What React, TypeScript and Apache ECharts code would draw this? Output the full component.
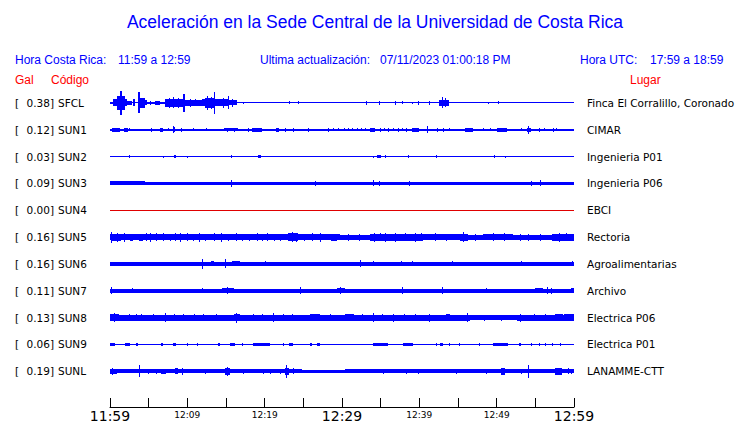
import React, { useEffect, useRef } from "react";
import * as echarts from "echarts";

// ---------- data ----------
const STATIONS = ["SFCL", "SUN1", "SUN2", "SUN3", "SUN4", "SUN5", "SUN6", "SUN7", "SUN8", "SUN9", "SUNL"];
const PEAK_GAL = [0.38, 0.12, 0.03, 0.09, 0.0, 0.16, 0.16, 0.11, 0.13, 0.06, 0.19];
const PLACES = [
  "Finca El Corralillo, Coronado", "CIMAR", "Ingenieria P01", "Ingenieria P06", "EBCI",
  "Rectoria", "Agroalimentarias", "Archivo", "Electrica P06", "Electrica P01", "LANAMME-CTT",
];
// continuous noise band half-amplitude (Gal)
const BAND_GAL = [0, 0.02, 0, 0.038, 0, 0.065, 0.048, 0.048, 0.06, 0, 0.035];
const TICK_LABELS = ["11:59", "", "12:09", "", "12:19", "", "12:29", "", "12:39", "", "12:49", "", "12:59"];

// envelope segments: [start minute, end minute, half-amplitude Gal]
const SFCL_ENV = [
  [0.0, 0.4, 0.02], [0.4, 0.86, 0.1], [0.86, 1.29, 0.21], [1.29, 1.59, 0.36], [1.59, 1.94, 0.21],
  [1.94, 2.16, 0.1], [2.16, 2.8, 0.04], [3.02, 3.23, 0.1], [3.58, 3.84, 0.31], [3.84, 4.53, 0.15],
  [4.53, 4.74, 0.06], [4.74, 7.1, 0.02], [5.2, 5.3, 0.04], [5.8, 6.5, 0.04], [7.1, 9.4, 0.11],
  [7.6, 7.7, 0.14], [8.2, 8.3, 0.16], [8.8, 8.9, 0.15], [9.4, 9.7, 0.27], [9.7, 11.85, 0.08],
  [10.3, 10.4, 0.11], [11.0, 11.1, 0.1], [11.85, 12.28, 0.1], [12.28, 13.4, 0.14], [12.6, 12.7, 0.2],
  [13.0, 13.1, 0.18], [13.4, 13.6, 0.34], [13.6, 14.2, 0.1], [14.2, 15.2, 0.09], [14.6, 14.7, 0.14],
  [15.2, 15.4, 0.19], [15.4, 16.4, 0.07], [15.8, 15.9, 0.11], [17.2, 17.3, 0.02], [23.2, 23.3, 0.03],
  [24.3, 24.4, 0.03], [33.1, 33.2, 0.04], [34.8, 34.9, 0.04], [36.8, 37.0, 0.05], [37.8, 37.9, 0.03],
  [39.1, 39.2, 0.02], [39.8, 40.0, 0.05], [41.2, 41.3, 0.04], [42.5, 43.8, 0.08], [42.9, 43.1, 0.16],
  [43.3, 43.5, 0.12], [48.9, 49.0, 0.02], [50.2, 50.3, 0.03],
];
const SUN1_ENV = [
  [0.3, 1.3, 0.04], [1.8, 2.3, 0.04], [2.4, 2.5, 0.03], [5.3, 5.4, 0.04], [6.5, 6.8, 0.04],
  [7.5, 7.6, 0.03], [8.1, 8.4, 0.06], [8.2, 8.3, 0.09], [9.2, 9.3, 0.04], [10.7, 10.8, 0.03],
  [12.4, 12.5, 0.03], [14.7, 16.5, 0.035], [15.1, 15.2, 0.05], [16.0, 16.1, 0.05], [17.8, 17.9, 0.04],
  [18.3, 19.6, 0.04], [21.5, 21.8, 0.05], [22.6, 22.7, 0.04], [23.7, 23.8, 0.04], [25.6, 25.7, 0.05],
  [28.2, 28.3, 0.04], [28.9, 29.0, 0.03], [29.5, 29.6, 0.03], [30.2, 30.3, 0.03], [30.8, 30.9, 0.03],
  [31.3, 31.4, 0.03], [31.9, 32.0, 0.03], [32.4, 32.5, 0.03], [33.0, 33.1, 0.03], [33.6, 34.3, 0.04],
  [34.9, 35.0, 0.04], [35.4, 35.5, 0.03], [36.0, 36.1, 0.04], [36.6, 36.7, 0.03], [37.2, 37.3, 0.04],
  [37.7, 37.8, 0.03], [38.3, 38.4, 0.04], [39.0, 39.9, 0.04], [41.0, 41.1, 0.09], [42.3, 42.4, 0.04],
  [43.1, 43.2, 0.04], [43.8, 43.9, 0.03], [45.9, 46.9, 0.04], [48.2, 48.3, 0.03], [49.2, 49.3, 0.03],
  [50.0, 51.3, 0.04], [53.2, 53.3, 0.03], [53.9, 54.5, 0.045], [54.0, 54.1, 0.11], [55.5, 55.6, 0.04],
  [56.1, 56.2, 0.03], [57.3, 57.4, 0.04], [57.7, 57.8, 0.03],
];
const SUN2_ENV = [
  [2.4, 2.5, 0.03], [6.8, 6.9, 0.02], [8.3, 8.5, 0.03], [10.0, 10.1, 0.02], [15.7, 15.8, 0.03],
  [19.1, 19.5, 0.03], [34.0, 34.1, 0.02], [34.5, 35.0, 0.03], [35.5, 35.6, 0.03], [38.5, 38.7, 0.03],
  [42.1, 42.2, 0.03], [49.7, 49.8, 0.03], [51.1, 51.2, 0.02],
];
const SUN3_ENV = [
  [0, 4.5, 0.05], [15.7, 15.8, 0.09], [26.5, 26.6, 0.06], [34.0, 34.1, 0.08], [34.8, 34.9, 0.07],
  [38.6, 38.7, 0.07], [54.5, 54.6, 0.06], [55.6, 55.7, 0.08],
];
const SUN4_ENV: number[][] = [];
const SUN5_ENV = [
  [0, 29.7, 0.085], [33.6, 40.5, 0.09], [40.5, 45.2, 0.08], [48.2, 52.1, 0.08], [57.2, 60, 0.09],
  [0.1, 0.2, 0.16], [0.3, 1.4, 0.1], [0.9, 1.0, 0.12], [1.8, 1.9, 0.12], [2.6, 3.0, 0.1],
  [3.8, 4.3, 0.1], [4.6, 4.7, 0.11], [5.2, 5.3, 0.12], [5.9, 6.0, 0.11], [6.9, 7.0, 0.11],
  [7.7, 7.8, 0.1], [8.4, 8.5, 0.11], [9.1, 9.2, 0.12], [10.0, 10.1, 0.11], [10.7, 10.8, 0.1],
  [11.5, 11.6, 0.12], [12.3, 12.4, 0.1], [13.4, 13.5, 0.11], [14.3, 14.4, 0.12], [15.2, 15.3, 0.1],
  [16.3, 16.4, 0.11], [17.1, 17.2, 0.1], [18.0, 18.1, 0.1], [19.0, 19.1, 0.11], [19.6, 19.7, 0.1],
  [20.3, 20.4, 0.11], [21.2, 21.3, 0.1], [22.0, 22.1, 0.1], [23.0, 24.3, 0.11], [23.5, 23.6, 0.15],
  [24.0, 24.1, 0.13], [25.1, 25.2, 0.1], [26.1, 26.2, 0.11], [27.2, 27.3, 0.12], [28.6, 29.4, 0.1],
  [30.8, 30.9, 0.09], [32.2, 32.3, 0.09], [34.2, 34.3, 0.12], [34.9, 35.0, 0.11], [35.5, 35.6, 0.12],
  [36.3, 36.4, 0.1], [36.9, 37.0, 0.12], [38.1, 38.2, 0.11], [39.4, 39.5, 0.13], [40.2, 40.3, 0.11],
  [42.0, 42.1, 0.11], [43.5, 43.6, 0.1], [45.2, 46.3, 0.1], [45.7, 45.8, 0.15], [47.2, 47.3, 0.09],
  [49.5, 49.6, 0.11], [51.0, 51.1, 0.11], [53.0, 53.1, 0.09], [54.0, 54.1, 0.1], [55.6, 55.7, 0.09],
  [58.0, 58.1, 0.12], [59.0, 59.1, 0.11],
];
const SUN6_ENV = [
  [11.9, 12.0, 0.15], [13.1, 13.5, 0.07], [14.9, 15.0, 0.12], [15.8, 16.8, 0.06], [20.1, 20.2, 0.06],
  [32.3, 32.4, 0.1], [34.0, 34.1, 0.07], [37.6, 37.7, 0.06], [39.1, 39.2, 0.06], [44.2, 44.3, 0.06],
  [53.1, 53.2, 0.07], [59.8, 59.9, 0.06],
];
const SUN7_ENV = [
  [0.1, 0.3, 0.09], [2.8, 2.9, 0.07], [11.9, 12.0, 0.07], [14.5, 16.0, 0.058], [15.1, 15.2, 0.1],
  [24.6, 24.7, 0.09], [29.3, 30.4, 0.07], [29.8, 29.9, 0.1], [37.7, 37.8, 0.09], [42.9, 43.0, 0.09],
  [48.6, 48.7, 0.06], [55.0, 56.0, 0.058], [56.5, 56.6, 0.09], [57.0, 57.1, 0.08], [59.6, 60, 0.06],
];
const SUN8_ENV = [
  [0, 46.5, 0.08], [52.6, 60, 0.08], [0, 1.2, 0.1], [0.5, 0.6, 0.12], [2.5, 2.6, 0.1],
  [3.3, 3.4, 0.09], [4.0, 4.1, 0.1], [5.5, 5.6, 0.09], [7.1, 7.2, 0.12], [8.3, 8.4, 0.09],
  [9.5, 9.6, 0.1], [10.8, 10.9, 0.09], [12.0, 12.1, 0.1], [13.7, 13.8, 0.09], [16.0, 16.8, 0.1],
  [16.3, 16.4, 0.14], [18.5, 18.6, 0.1], [19.6, 19.7, 0.09], [21.1, 21.2, 0.12], [22.4, 22.5, 0.09],
  [23.5, 23.6, 0.1], [25.9, 27.2, 0.095], [28.5, 28.6, 0.1], [30.4, 31.5, 0.1], [32.6, 32.7, 0.09],
  [34.0, 34.1, 0.12], [35.2, 35.3, 0.09], [36.6, 36.7, 0.11], [38.0, 38.1, 0.09], [39.5, 39.6, 0.1],
  [41.2, 41.3, 0.11], [43.5, 44.0, 0.1], [46.1, 46.2, 0.12], [48.3, 48.4, 0.08], [50.5, 50.6, 0.08],
  [53.0, 53.1, 0.11], [54.8, 54.9, 0.1], [56.2, 56.3, 0.1], [57.5, 58.6, 0.1], [58.7, 60, 0.09],
];
const SUN9_ENV = [
  [0, 0.6, 0.03], [1.9, 2.6, 0.035], [3.4, 3.6, 0.03], [6.6, 6.8, 0.03], [8.2, 8.5, 0.03],
  [10.0, 10.1, 0.025], [11.3, 11.4, 0.025], [14.0, 14.2, 0.03], [15.5, 16.2, 0.03], [17.1, 17.2, 0.025],
  [18.5, 20.7, 0.03], [22.4, 22.5, 0.025], [23.2, 23.6, 0.03], [25.9, 26.1, 0.03], [26.8, 27.2, 0.03],
  [34.0, 36.0, 0.03], [37.9, 39.2, 0.03], [42.1, 42.2, 0.025], [42.7, 43.0, 0.03], [43.8, 43.9, 0.025],
  [45.1, 45.2, 0.025], [47.7, 47.8, 0.025], [49.5, 51.5, 0.03], [52.9, 53.2, 0.035], [54.5, 54.6, 0.025],
  [55.5, 55.6, 0.025], [56.3, 56.4, 0.025], [57.2, 57.3, 0.03], [58.2, 58.3, 0.025],
];
const SUNL_ENV = [
  [0, 24.8, 0.045], [30.4, 60, 0.045], [0, 0.9, 0.07], [0.3, 0.4, 0.09], [3.7, 3.8, 0.17],
  [4.9, 5.0, 0.07], [5.9, 6.0, 0.06], [6.6, 7.2, 0.065], [8.4, 8.8, 0.08], [9.3, 9.4, 0.1],
  [12.3, 12.4, 0.06], [14.9, 15.5, 0.1], [15.1, 15.2, 0.13], [17.2, 17.3, 0.07], [19.8, 19.9, 0.06],
  [20.7, 20.8, 0.06], [22.0, 22.1, 0.07], [22.6, 23.1, 0.09], [22.8, 22.9, 0.19], [23.6, 23.7, 0.08],
  [35.3, 35.4, 0.06], [38.3, 38.4, 0.06], [39.8, 39.9, 0.06], [44.7, 44.8, 0.07], [48.6, 48.7, 0.06],
  [50.6, 51.1, 0.09], [53.1, 53.2, 0.06], [54.1, 54.2, 0.19], [57.5, 58.4, 0.1], [59.2, 59.3, 0.08],
  [59.6, 59.7, 0.06],
];
const ENVELOPES = [SFCL_ENV, SUN1_ENV, SUN2_ENV, SUN3_ENV, SUN4_ENV, SUN5_ENV, SUN6_ENV, SUN7_ENV, SUN8_ENV, SUN9_ENV, SUNL_ENV];
const TRACE_COLORS = ["#0000ff", "#0000ff", "#0000ff", "#0000ff", "#e00000", "#0000ff", "#0000ff", "#0000ff", "#0000ff", "#0000ff", "#0000ff"];

// ---------- layout constants ----------
const SPACING = 0.85; // Gal between trace baselines
const BLUE = "#0000ff";
const RED = "#ff0000";
const SANS = "'Liberation Sans', Arial, sans-serif";
const DEJAVU = "'DejaVu Sans', sans-serif";

export default function App() {
  const ref = useRef<HTMLDivElement>(null);

  useEffect(() => {
    document.body.style.margin = "0";
    const chart = echarts.init(ref.current!, null, { renderer: "svg" });

    const traceSeries = ENVELOPES.map((env, i) => {
      const data = [[0, 60, BAND_GAL[i], i], ...env.map((s) => [s[0], s[1], s[2], i])];
      return {
        type: "custom",
        name: STATIONS[i],
        silent: true,
        clip: false,
        data,
        encode: { x: [0, 1] },
        renderItem: (params: any, api: any) => {
          const t0 = api.value(0);
          const t1 = api.value(1);
          const amp = api.value(2);
          const idx = api.value(3);
          const base = -idx * SPACING;
          const p0 = api.coord([t0, base]);
          const p1 = api.coord([t1, base]);
          const h = api.size([0, amp])[1];
          const x0 = Math.round(p0[0]);
          const w = Math.max(1, Math.round(p1[0]) - x0);
          const hh = Math.max(1, Math.round(2 * h + 1));
          const y0 = Math.round(p0[1] - hh / 2);
          return {
            type: "rect",
            shape: { x: x0, y: y0, width: w, height: hh },
            style: { fill: TRACE_COLORS[idx] },
          };
        },
      };
    });

    const labelSeries = {
      type: "custom",
      silent: true,
      clip: false,
      data: STATIONS.map((_, i) => [0, i]),
      renderItem: (params: any, api: any) => {
        const idx = api.value(1);
        const y = api.coord([0, -idx * SPACING])[1];
        const common = { fontFamily: DEJAVU, fontSize: 10.5, fill: "#000", verticalAlign: "middle" };
        return {
          type: "group",
          children: [
            { type: "text", style: { ...common, x: 15, y, text: "[", textAlign: "left" } },
            { type: "text", style: { ...common, x: 54, y, text: PEAK_GAL[idx].toFixed(2) + "]", textAlign: "right" } },
            { type: "text", style: { ...common, x: 58, y, text: STATIONS[idx], textAlign: "left" } },
            { type: "text", style: { ...common, x: 587, y, text: PLACES[idx], textAlign: "left" } },
          ],
        };
      },
    };

    const headerText = (x: number, y: number, text: string, color: string, size = 12, align = "left") => ({
      type: "text",
      x,
      y,
      silent: true,
      style: { text, fill: color, fontFamily: SANS, fontSize: size, textAlign: align, verticalAlign: "middle" },
    });

    chart.setOption({
      animation: false,
      backgroundColor: "#ffffff",
      grid: { left: 110, right: 166, top: 76, bottom: 14, containLabel: false },
      xAxis: {
        type: "value",
        min: 0,
        max: 60,
        interval: 5,
        splitLine: { show: false },
        axisLine: { show: true, onZero: false, lineStyle: { color: "#000", width: 1 } },
        axisTick: { show: true, inside: true, length: 9, lineStyle: { color: "#000", width: 1 } },
        axisLabel: {
          show: true,
          margin: 2,
          showMinLabel: true,
          showMaxLabel: true,
          hideOverlap: false,
          formatter: (v: number) => {
            const i = Math.round(v / 5);
            const t = TICK_LABELS[i] || "";
            if (!t) return "";
            return i % 6 === 0 ? `{big|${t}}` : `{small|${t}}`;
          },
          rich: {
            big: { fontFamily: DEJAVU, fontSize: 14, color: "#000" },
            small: { fontFamily: DEJAVU, fontSize: 9, color: "#000", padding: [1, 0, 0, 0] },
          },
        },
      },
      yAxis: {
        type: "value",
        min: -(10 + 36 / 27) * SPACING,
        max: SPACING,
        show: false,
      },
      series: [...traceSeries, labelSeries],
      graphic: [
        headerText(375, 22, "Aceleración en la Sede Central de la Universidad de Costa Rica", BLUE, 17.5, "center"),
        headerText(15, 60, "Hora Costa Rica:", BLUE),
        headerText(118, 60, "11:59 a 12:59", BLUE),
        headerText(260, 60, "Ultima actualización:", BLUE),
        headerText(380, 60, "07/11/2023 01:00:18 PM", BLUE),
        headerText(580, 60, "Hora UTC:", BLUE),
        headerText(650, 60, "17:59 a 18:59", BLUE),
        headerText(15, 80, "Gal", RED),
        headerText(51, 80, "Código", RED),
        headerText(630, 80, "Lugar", RED),
      ],
    });

    return () => chart.dispose();
  }, []);

  return <div ref={ref} style={{ width: 740, height: 423 }} />;
}
